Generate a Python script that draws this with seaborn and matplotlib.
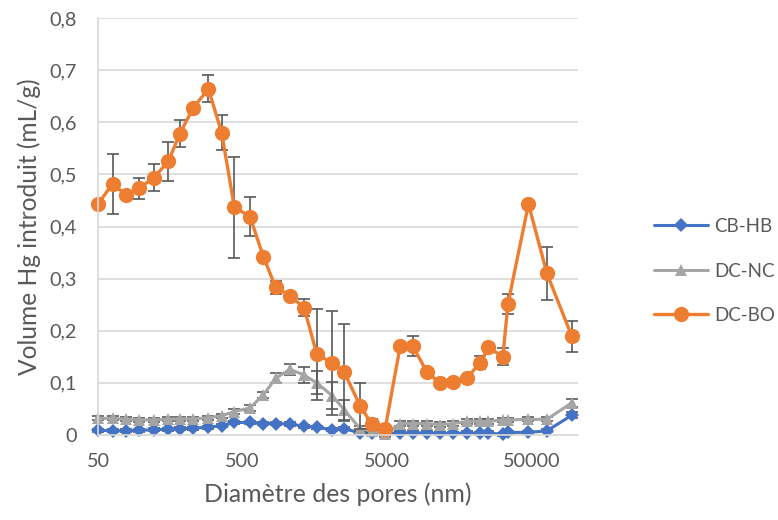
import matplotlib
matplotlib.use("Agg")
import matplotlib.pyplot as plt
import matplotlib.ticker as mticker
from matplotlib.lines import Line2D
import seaborn as sns
import pandas as pd

# pore diameter (nm)
diametre = [50, 63, 78, 96, 122, 153, 184, 228, 290, 358, 438, 562, 695, 847,
            1063, 1330, 1627, 2086, 2524, 3243, 3905, 4830, 6130, 7480, 9385,
            11590, 14330, 17730, 21915, 25000, 31460, 34070, 47290, 63400, 94400]

cb_hb = [0.009, 0.008, 0.008, 0.009, 0.010, 0.011, 0.012, 0.013, 0.015, 0.018,
         0.024, 0.024, 0.022, 0.022, 0.021, 0.017, 0.015, 0.010, 0.012, 0.004,
         0.004, 0.003, 0.004, 0.004, 0.004, 0.003, 0.003, 0.004, 0.003, 0.004,
         0.001, 0.005, 0.005, 0.008, 0.038]
cb_hb_err = [0.003] * 34 + [0.006]

dc_nc = [0.032, 0.032, 0.030, 0.029, 0.029, 0.030, 0.031, 0.031, 0.033, 0.037,
         0.045, 0.052, 0.077, 0.109, 0.126, 0.115, 0.100, 0.075, 0.048, 0.012,
         0.008, 0.001, 0.022, 0.022, 0.022, 0.020, 0.022, 0.026, 0.026, 0.026,
         0.029, 0.029, 0.030, 0.030, 0.062]
dc_nc_err = [0.004, 0.004, 0.004, 0.004, 0.004, 0.004, 0.004, 0.004, 0.004, 0.004,
             0.005, 0.005, 0.006, 0.010, 0.010, 0.015, 0.022, 0.026, 0.020, 0.005,
             0.004, 0.004, 0.004, 0.004, 0.004, 0.004, 0.004, 0.004, 0.004, 0.004,
             0.004, 0.004, 0.004, 0.004, 0.008]

dc_bo = [0.443, 0.482, 0.461, 0.473, 0.494, 0.525, 0.578, 0.628, 0.664, 0.580,
         0.437, 0.419, 0.342, 0.283, 0.267, 0.244, 0.155, 0.138, 0.120, 0.056,
         0.021, 0.012, 0.170, 0.171, 0.121, 0.099, 0.102, 0.109, 0.139, 0.168,
         0.150, 0.251, 0.443, 0.310, 0.189]
dc_bo_err = [0.0, 0.058, 0.005, 0.021, 0.026, 0.038, 0.026, 0.005, 0.026, 0.033,
             0.097, 0.038, 0.005, 0.013, 0.005, 0.016, 0.087, 0.100, 0.093, 0.044,
             0.010, 0.005, 0.005, 0.019, 0.005, 0.005, 0.005, 0.005, 0.013, 0.005,
             0.016, 0.019, 0.005, 0.051, 0.030]

x_ticks = [50, 500, 5000, 50000]
y_ticks = [0, 0.1, 0.2, 0.3, 0.4, 0.5, 0.6, 0.7, 0.8]

sns.set_style("white")
plt.rcParams["font.family"] = ["Lato", "DejaVu Sans"]
TXT = "#595959"

df = pd.DataFrame({"d": diametre, "CB-HB": cb_hb, "DC-NC": dc_nc, "DC-BO": dc_bo})
errs = {"CB-HB": cb_hb_err, "DC-NC": dc_nc_err, "DC-BO": dc_bo_err}
styles = {
    "CB-HB": dict(color="#4472C4", marker="D", ms=7, lw=2.2),
    "DC-NC": dict(color="#A5A5A5", marker="^", ms=9, lw=2.2),
    "DC-BO": dict(color="#ED7D31", marker="o", ms=11, lw=2.4),
}

fig = plt.figure(figsize=(7.78, 5.2), dpi=100)
ax = fig.add_axes([98 / 778, 1 - 435 / 520, 480 / 778, 417 / 520])

handles = []
for i, name in enumerate(["CB-HB", "DC-NC", "DC-BO"]):
    st = styles[name]
    # error bars first so the markers sit on top of them, like Excel
    eb = ax.errorbar(df["d"], df[name], yerr=errs[name], fmt="none",
                     ecolor="#595959", elinewidth=1.2, capsize=4, capthick=1.2,
                     zorder=2 + i * 0.2)
    for part in eb.lines[1] + eb.lines[2]:
        part.set_clip_on(False)
    sns.lineplot(data=df, x="d", y=name, ax=ax, color=st["color"], marker=st["marker"],
                 markersize=st["ms"], linewidth=st["lw"], markeredgewidth=0,
                 sort=False, estimator=None, legend=False, zorder=2.1 + i * 0.2)
    ax.lines[-1].set_clip_on(False)
    handles.append(Line2D([], [], color=st["color"], marker=st["marker"],
                          markersize=st["ms"], linewidth=st["lw"],
                          markeredgewidth=0, label=name))

ax.set_xscale("log")
ax.set_xlim(50, 104000)
ax.set_ylim(0, 0.8)
ax.set_xticks(x_ticks)
ax.set_xticklabels([str(t) for t in x_ticks])
ax.xaxis.set_minor_locator(mticker.NullLocator())
ax.set_yticks(y_ticks)
ax.yaxis.set_major_formatter(mticker.FuncFormatter(
    lambda v, p: "0" if abs(v) < 1e-9 else f"{v:.1f}".replace(".", ",")))

ax.grid(axis="y", color="#D9D9D9", linewidth=1.2)
ax.grid(axis="x", visible=False)
ax.set_axisbelow(True)
for s in ["top", "right"]:
    ax.spines[s].set_visible(False)
for s in ["left", "bottom"]:
    ax.spines[s].set_color("#D9D9D9")
    ax.spines[s].set_linewidth(1.2)
ax.tick_params(length=0, labelsize=15, colors=TXT)
ax.tick_params(axis="x", pad=13)
ax.tick_params(axis="y", pad=15)

xl = ax.set_xlabel("Diamètre des pores (nm)", fontsize=15, color=TXT, labelpad=9)
yl = ax.set_ylabel("Volume Hg introduit (mL/g)", fontsize=15, color=TXT, labelpad=6)

leg = fig.legend(handles=handles, loc="center left", bbox_to_anchor=(654 / 778, 1 - 271 / 520),
                 frameon=False, fontsize=15, labelcolor=TXT, handlelength=2.6,
                 handletextpad=0.3, labelspacing=1.3, borderpad=0, borderaxespad=0)

# scale the fonts so the text widths match the reference (Calibri there)
fig.canvas.draw()
r = fig.canvas.get_renderer()
xl.set_fontsize(15 * 268 / xl.get_window_extent(r).width)
yl.set_fontsize(15 * 297 / yl.get_window_extent(r).height)
tick_w = [t for t in ax.get_xticklabels() if t.get_text() == "50000"][0].get_window_extent(r).width
ax.tick_params(labelsize=15 * 58 / tick_w)
leg_w = leg.get_texts()[2].get_window_extent(r).width
for t in leg.get_texts():
    t.set_fontsize(15 * 61 / leg_w)

fig.savefig("out.png", dpi=100)
